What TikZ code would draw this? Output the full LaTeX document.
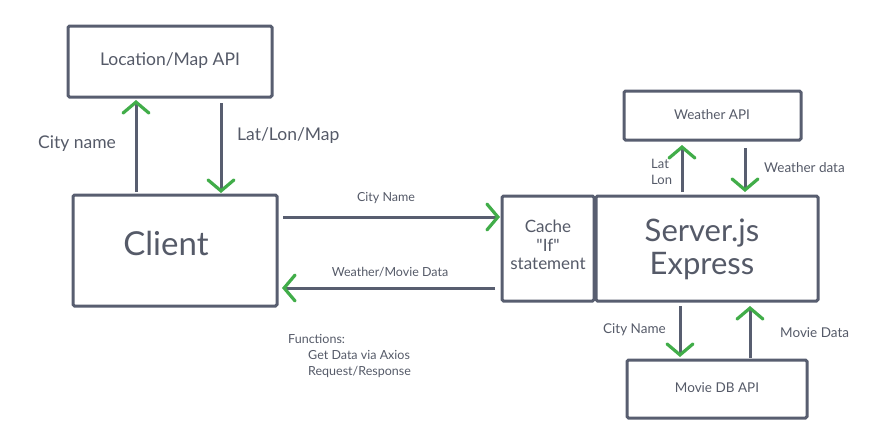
\documentclass[tikz,border=0pt]{standalone}
\usepackage{fontspec}
\setmainfont{Lato}
\newfontfamily\rawlato{Lato}[Ligatures=TeXOff]
\usetikzlibrary{arrows.meta}
\definecolor{ink}{HTML}{585E70}
\definecolor{txt}{HTML}{555A68}
\definecolor{grn}{HTML}{41AD49}
\tikzset{
  box/.style={draw=ink, line width=3pt, rounded corners=1.5pt, fill=white},
  conn/.style={draw=ink, line width=3pt, -{Straight Barb[color=grn, length=11pt, width=26pt, line width=3.2pt, line cap=round]}},
  lbl/.style={text=txt, inner sep=0pt, align=left},
}
\newcommand{\fs}[1]{\fontsize{#1}{\dimexpr #1pt*12/10\relax}\selectfont}
\begin{document}
\begin{tikzpicture}[x=1pt,y=-1pt]
\useasboundingbox (0,0) rectangle (884,437);
% boxes
\draw[box] (68,26) rectangle (272,97);
\node[lbl, font=\fs{17.5}] (loc) at (170,61) {Location/Map API};
\draw[box] (73,195) rectangle (277,306);
\node[lbl, font=\fs{33}] (client) at (166,243) {Client};
\draw[box] (502,196) rectangle (594,301);
\node[lbl, align=center, font=\rawlato\fs{17}] (cache) at (548,245) {Cache\\[-2pt]"If"\\[-2pt]statement};
\draw[box] (596,196) rectangle (818,301);
\node[lbl, align=center, font=\fs{31}] (server) at (702,249) {Server.js\\[-4pt]Express};
\draw[box] (624,91) rectangle (801,140);
\node[lbl, font=\fs{13.5}] (weather) at (712,115) {Weather API};
\draw[box] (627,360) rectangle (807,418);
\node[lbl, font=\fs{13.5}] (movie) at (717,388) {Movie DB API};
% connector anchors
\coordinate (a1s) at (136,192); \coordinate (a1e) at (136,100);
\coordinate (a2s) at (221,103); \coordinate (a2e) at (221,193);
\coordinate (a3s) at (283,217); \coordinate (a3e) at (500,217);
\coordinate (a4s) at (495,288); \coordinate (a4e) at (282,288);
\coordinate (a5s) at (682,192); \coordinate (a5e) at (682,145);
\coordinate (a6s) at (745,148); \coordinate (a6e) at (745,192);
\coordinate (a7s) at (680,306); \coordinate (a7e) at (680,357);
\coordinate (a8s) at (750,358); \coordinate (a8e) at (750,306);
\draw[conn] (a1s) -- (a1e);
\draw[conn] (a2s) -- (a2e);
\draw[conn] (a3s) -- (a3e);
\draw[conn] (a4s) -- (a4e);
\draw[conn] (a5s) -- (a5e);
\draw[conn] (a6s) -- (a6e);
\draw[conn] (a7s) -- (a7e);
\draw[conn] (a8s) -- (a8e);
% labels
\node[lbl, anchor=west, font=\fs{17.5}] (l1) at (38,144) {City name};
\node[lbl, anchor=west, font=\fs{17.5}] (l2) at (237,136) {Lat/Lon/Map};
\node[lbl, font=\fs{12.5}] (l3) at (386,198) {City Name};
\node[lbl, font=\fs{12.5}] (l4) at (390,272) {Weather/Movie Data};
\node[lbl, anchor=west, font=\fs{13}] (l5) at (651,172) {Lat\\[0pt]Lon};
\node[lbl, anchor=west, font=\fs{13.5}] (l6) at (764,168) {Weather data};
\node[lbl, anchor=west, font=\fs{13.5}] (l7) at (603,330) {City Name};
\node[lbl, anchor=west, font=\fs{13.5}] (l8) at (780,333) {Movie Data};
\node[lbl, anchor=north west, font=\fs{12.5}] (l9) at (288,334) {Functions:\\[1pt]\hspace*{20pt}Get Data via Axios\\[1pt]\hspace*{20pt}Request/Response};
\end{tikzpicture}
\end{document}
